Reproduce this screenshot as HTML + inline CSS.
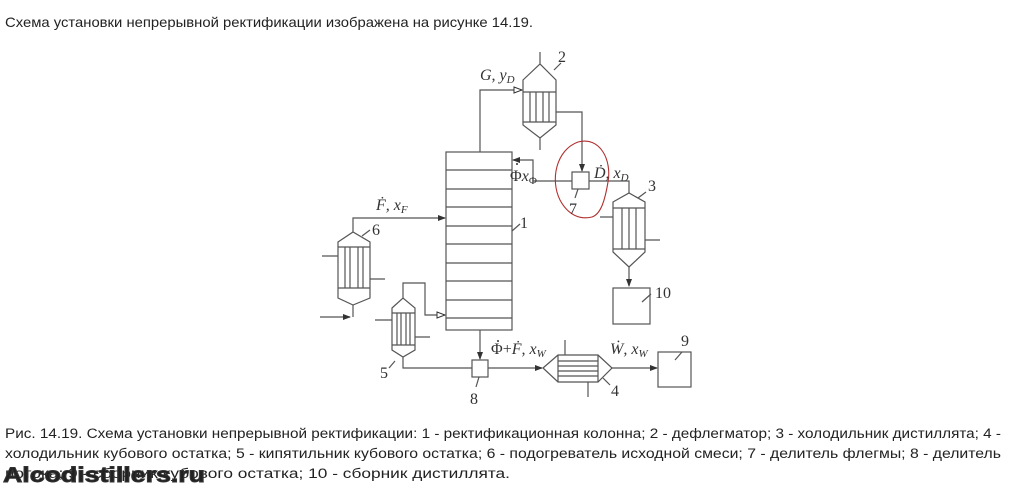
<!DOCTYPE html>
<html><head><meta charset="utf-8"><style>
html,body{margin:0;padding:0;background:#fff;}
svg{display:block;}
text{font-family:"Liberation Sans",sans-serif;fill:#222;}
.s{font-family:"Liberation Serif",serif;fill:#333;}
</style></head><body>
<svg width="1024" height="491" viewBox="0 0 1024 491" xmlns="http://www.w3.org/2000/svg">
<defs>
<marker id="a" markerWidth="8" markerHeight="6" refX="7" refY="3" orient="auto" markerUnits="userSpaceOnUse"><path d="M0,0 L8,3 L0,6 Z" fill="#333"/></marker>
<marker id="h" markerWidth="10" markerHeight="8" refX="9" refY="4" orient="auto" markerUnits="userSpaceOnUse"><path d="M1,1 L9,4 L1,7 Z" fill="#fff" stroke="#333" stroke-width="1"/></marker>
</defs>
<text x="5" y="27" font-size="14" textLength="528" lengthAdjust="spacingAndGlyphs">Схема установки непрерывной ректификации изображена на рисунке 14.19.</text>

<g fill="none" stroke="#555" stroke-width="1.2">
<rect x="446" y="152" width="66" height="178"/>
<path d="M446 170H512M446 189H512M446 207H512M446 226H512M446 244H512M446 263H512M446 281H512M446 300H512M446 318H512"/>
<path d="M480 152V90H522" marker-end="url(#h)"/>
<path d="M512 231L520 224"/>
<path d="M540 52V64M523 80L540 64L556 80V125L540 138L523 125Z M523 92H556M523 122H556M540 138V150"/>
<path d="M530 92V122M536 92V122M543 92V122M549 92V122M554 70L561 63"/>
<path d="M556 112H582V171" marker-end="url(#a)"/>
<rect x="572" y="172" width="17" height="17"/>
<path d="M572 181H533V160H513" marker-end="url(#a)"/>
<path d="M589 181H629V193M578 189L575 198"/>
<path d="M613 202L629 193L645 202V252L629 267L613 252Z M613 208H645M613 249H645"/>
<path d="M622 208V249M629 208V249M636 208V249M600 217H613M645 240H660M638 198L646 192"/>
<path d="M629 267V286" marker-end="url(#a)"/>
<rect x="613" y="288" width="37" height="36"/>
<path d="M642 302L651 294"/>
<path d="M338 242L353 232L370 242V298L353 305L338 298Z M338 247H370M338 288H370"/>
<path d="M345 247V288M350 247V288M358 247V288M363 247V288M322 256H338M370 279H385M362 236L370 230"/>
<path d="M353 305V317"/>
<path d="M320 317H350" marker-end="url(#a)"/>
<path d="M353 232V218H445" marker-end="url(#a)"/>
<path d="M392 308L403 298L415 308V350L403 357L392 350Z M392 313H415M392 345H415"/>
<path d="M397 313V345M401 313V345M406 313V345M410 313V345M375 320H392M415 337H430M395 361L389 368"/>
<path d="M403 298V283H425V315H445" marker-end="url(#h)"/>
<path d="M403 357V368H472"/>
<path d="M480 330V359" marker-end="url(#a)"/>
<rect x="472" y="360" width="16" height="17"/>
<path d="M488 368H542" marker-end="url(#a)"/>
<path d="M479 377L476 387"/>
<path d="M543 368L558 355H598L612 368L598 382H558Z M558 355V382M598 355V382"/>
<path d="M558 361H598M558 366H598M558 371H598M558 376H598M565 340V355M588 382V397M603 378L610 385"/>
<path d="M612 368H657" marker-end="url(#a)"/>
<rect x="658" y="352" width="33" height="35"/>
<path d="M675 360L682 352"/>
</g>

<path d="M560 200C550 180 556 150 578 142C600 136 612 160 608 182C605 200 601 214 592 217C580 220 568 215 560 200Z" fill="none" stroke="#b03030" stroke-width="1.1"/>

<g fill="#333">
<circle cx="517" cy="164" r="1"/>
<circle cx="498" cy="341" r="1"/>
</g>
<g font-size="16">
<text class="s" x="480" y="80" font-style="italic">G, y<tspan font-size="11" dy="3">D</tspan></text>
<text class="s" x="558" y="62">2</text>
<text class="s" x="510" y="181">Φ<tspan font-style="italic">x</tspan><tspan font-size="11" dy="3">Φ</tspan></text>
<text class="s" x="594" y="178" font-style="italic">Ḋ, x<tspan font-size="11" dy="3">D</tspan></text>
<text class="s" x="569" y="214">7</text>
<text class="s" x="648" y="191">3</text>
<text class="s" x="376" y="210" font-style="italic">Ḟ, x<tspan font-size="11" dy="3">F</tspan></text>
<text class="s" x="372" y="235">6</text>
<text class="s" x="520" y="228">1</text>
<text class="s" x="655" y="298">10</text>
<text class="s" x="380" y="378">5</text>
<text class="s" x="491" y="354">Φ+<tspan font-style="italic">Ḟ, x</tspan><tspan font-size="11" dy="3" font-style="italic">W</tspan></text>
<text class="s" x="470" y="404">8</text>
<text class="s" x="610" y="354" font-style="italic">Ẇ, x<tspan font-size="11" dy="3">W</tspan></text>
<text class="s" x="611" y="396">4</text>
<text class="s" x="681" y="346">9</text>
</g>

<text x="5" y="438" font-size="13.5" textLength="996" lengthAdjust="spacingAndGlyphs">Рис. 14.19. Схема установки непрерывной ректификации: 1 ‑ ректификационная колонна; 2 ‑ дефлегматор; 3 ‑ холодильник дистиллята; 4 ‑</text>
<text x="5" y="458" font-size="13.5" textLength="996" lengthAdjust="spacingAndGlyphs">холодильник кубового остатка; 5 ‑ кипятильник кубового остатка; 6 ‑ подогреватель исходной смеси; 7 ‑ делитель флегмы; 8 ‑ делитель</text>
<text x="5" y="478" font-size="13.5" textLength="505" lengthAdjust="spacingAndGlyphs">потока; 9 ‑ сборник кубового остатка; 10 ‑ сборник дистиллята.</text>
<text x="3" y="482" font-size="21" font-weight="bold" fill="#aaa" stroke="#333" stroke-width="0.9" textLength="202" lengthAdjust="spacingAndGlyphs">Alcodistillers.ru</text>
</svg>
</body></html>
